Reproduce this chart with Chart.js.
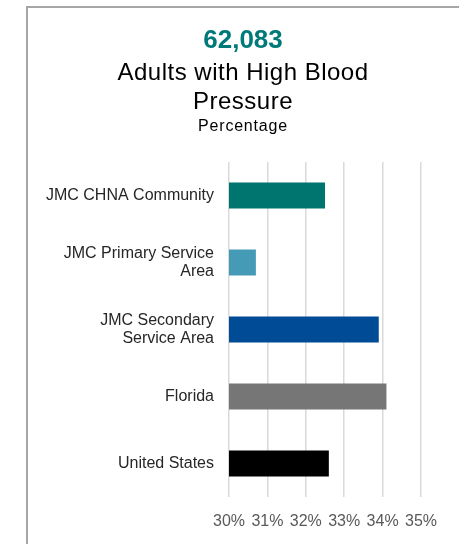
<!DOCTYPE html>
<html>
<head>
<meta charset="utf-8">
<script src="https://cdn.jsdelivr.net/npm/chart.js@4"></script>
<style>
  html, body { margin: 0; padding: 0; background: #fff; }
  #wrap { position: relative; width: 459px; height: 544px; overflow: hidden; }
  #frame { position: absolute; left: 26px; top: 6px; width: 440px; height: 560px;
           border-left: 2px solid #a6a6a6; border-top: 2px solid #a6a6a6; box-sizing: border-box; }
  #titles { position: absolute; left: 27px; right: 0; top: 0; text-align: center;
            font-family: "Liberation Sans", Arial, sans-serif; pointer-events: none; }
  .t1 { position: absolute; left: 0; right: 0; top: 23px; font-size: 26px; font-weight: bold; color: #007a78; line-height: 32px; }
  .t2 { position: absolute; left: 0; right: 0; top: 57px; font-size: 24px; color: #000; line-height: 29px; letter-spacing: 0.5px; }
  .t3 { position: absolute; left: 0; right: 0; top: 116px; font-size: 16px; color: #000; line-height: 20px; letter-spacing: 0.8px; }
  canvas { position: absolute; left: 0; top: 0; }
</style>
</head>
<body>
<div id="wrap">
  <div id="frame"></div>
  <canvas id="c" width="459" height="544"></canvas>
  <div id="titles">
    <div class="t1">62,083</div>
    <div class="t2">Adults with High Blood<br>Pressure</div>
    <div class="t3">Percentage</div>
  </div>
</div>
<script>
const categories = [
  "JMC CHNA Community",
  ["JMC Primary Service", "Area"],
  ["JMC Secondary", "Service Area"],
  "Florida",
  "United States"
];
const values = [32.5, 30.7, 33.9, 34.1, 32.6];
const barColors = ["#00746f", "#459ab6", "#004b96", "#767676", "#000000"];
const tickMin = 30, tickMax = 35, tickStep = 1;

new Chart(document.getElementById("c"), {
  type: "bar",
  data: {
    labels: categories,
    datasets: [{
      data: values,
      backgroundColor: barColors,
      borderWidth: 0,
      barPercentage: 0.39,
      categoryPercentage: 1
    }]
  },
  options: {
    indexAxis: "y",
    responsive: false,
    animation: false,
    layout: { padding: { top: 162, right: 38, bottom: 0, left: 0 } },
    plugins: { legend: { display: false }, tooltip: { enabled: false } },
    scales: {
      x: {
        min: tickMin, max: tickMax,
        grid: { color: "#d9d9d9", lineWidth: 1.5, drawTicks: false },
        border: { display: false },
        afterFit: s => { s.height = 47; },
        ticks: {
          stepSize: tickStep,
          padding: 15,
          maxRotation: 0,
          color: "#595959",
          font: { family: "Liberation Sans", size: 16 },
          callback: v => v + "%"
        }
      },
      y: {
        grid: { display: false, drawTicks: false },
        border: { display: false },
        afterFit: s => { s.width = 229; },
        ticks: {
          padding: 15,
          color: "#262626",
          font: { family: "Liberation Sans", size: 16, lineHeight: 1.15 }
        }
      }
    }
  }
});
</script>
</body>
</html>
